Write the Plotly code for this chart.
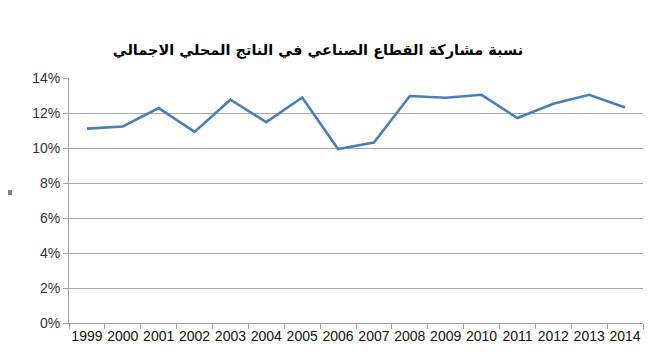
import plotly.graph_objects as go

years = ["1999", "2000", "2001", "2002", "2003", "2004", "2005", "2006",
         "2007", "2008", "2009", "2010", "2011", "2012", "2013", "2014"]
share = [0.1111, 0.1123, 0.1228, 0.1092, 0.1276, 0.1148, 0.1289, 0.0994,
         0.1031, 0.1297, 0.1287, 0.1304, 0.1171, 0.1253, 0.1304, 0.1232]
y_ticks = [0, 0.02, 0.04, 0.06, 0.08, 0.10, 0.12, 0.14]
title_text = "نسبة مشاركة القطاع الصناعي في الناتج المحلي الاجمالي"

fig = go.Figure()
fig.add_trace(go.Scatter(
    x=years, y=share, mode="lines",
    line=dict(color="#4A7EBB", width=2.6),
    hoverinfo="x+y",
))

fig.update_layout(
    width=656, height=362,
    margin=dict(l=61, r=21, t=70, b=47),
    paper_bgcolor="white", plot_bgcolor="white",
    showlegend=False,
    title=dict(text="<b>" + title_text + "</b>", x=310 / 656, xanchor="center",
               y=1 - 42 / 362, yanchor="middle",
               font=dict(family="DejaVu Sans, Arial", size=14.5, color="black")),
    font=dict(family="Liberation Sans, Arial", size=14, color="#222222"),
)
fig.update_xaxes(
    type="category", tickson="boundaries", ticks="outside", ticklen=5,
    tickcolor="#A0A0A0", showline=True, linecolor="#A0A0A0", linewidth=1,
    showgrid=False, tickangle=0, tickfont=dict(size=14, color="#111111"),
    range=[-0.5, len(years) - 0.5],
)
fig.update_yaxes(
    range=[0, 0.14], tickvals=y_ticks, tickformat=".0%",
    showgrid=True, gridcolor="#A8A8A8", gridwidth=1,
    showline=True, linecolor="#A0A0A0", linewidth=1,
    ticks="outside", ticklen=5, tickcolor="#A0A0A0",
    tickfont=dict(size=14, color="#333333"), zeroline=False,
)
fig.add_shape(type="rect", xref="paper", yref="paper",
              x0=-61 / 574, x1=-57 / 574, y0=(315 - 187) / 245, y1=(315 - 182) / 245,
              fillcolor="#808080", line=dict(width=0))

fig.write_html("out.html")
